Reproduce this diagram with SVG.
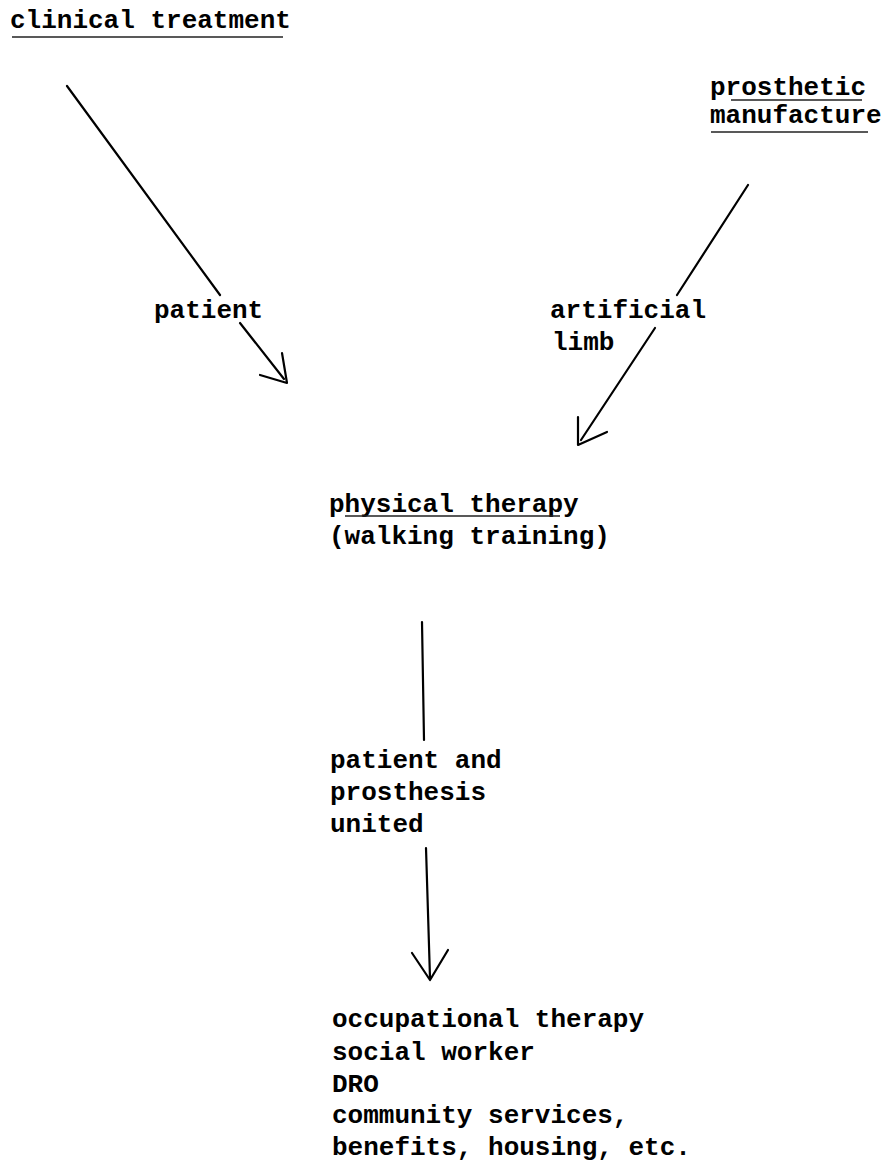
<svg xmlns="http://www.w3.org/2000/svg" width="887" height="1163" viewBox="0 0 887 1163">
<style>
text{font-family:"Liberation Mono","Courier New",monospace;font-size:26px;font-weight:bold;fill:#000}
.ul{stroke:#222;stroke-width:1.5;fill:none}
.c{stroke:#000;stroke-width:2.2;fill:none;stroke-linecap:round;stroke-linejoin:round}
</style>
<rect width="887" height="1163" fill="#fff"/>
<g id="clinical-treatment">
<text x="10" y="28">clinical treatment</text>
<line class="ul" x1="12" y1="37" x2="283" y2="37"/>
</g>
<g id="prosthetic-manufacture">
<text x="710" y="95">prosthetic</text>
<text x="710" y="123">manufacture</text>
<line class="ul" x1="731" y1="100" x2="862" y2="100"/>
<line class="ul" x1="711" y1="132" x2="868" y2="132"/>
</g>
<g id="physical-therapy">
<text x="329" y="512">physical therapy</text>
<text x="329" y="544">(walking training)</text>
<line class="ul" x1="345" y1="516" x2="560" y2="516"/>
</g>
<g id="patient-prosthesis-united">
<text x="330" y="768">patient and</text>
<text x="330" y="800">prosthesis</text>
<text x="330" y="832">united</text>
</g>
<g id="services">
<text x="332" y="1027">occupational therapy</text>
<text x="332" y="1060">social worker</text>
<text x="332" y="1092">DRO</text>
<text x="332" y="1123">community services,</text>
<text x="332" y="1155">benefits, housing, etc.</text>
</g>
<g id="connectors">
<line class="c" x1="67" y1="86" x2="220" y2="295"/>
<text x="154" y="318">patient</text>
<line class="c" x1="240" y1="323" x2="284" y2="379"/>
<polyline class="c" points="282,353 287,383 260,375"/>
<line class="c" x1="748" y1="185" x2="677" y2="295"/>
<text x="550" y="318">artificial</text>
<text x="552" y="350">limb</text>
<line class="c" x1="655" y1="328" x2="581" y2="440"/>
<polyline class="c" points="578,417 578,445 607,432"/>
<line class="c" x1="422" y1="622" x2="424" y2="740"/>
<line class="c" x1="426" y1="848" x2="430" y2="978"/>
<polyline class="c" points="412,953 430,980 448,950"/>
</g>
</svg>
